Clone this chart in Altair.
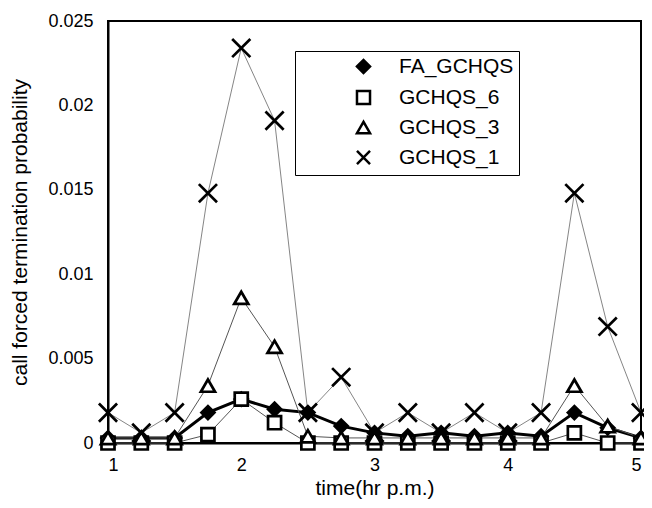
import altair as alt
import pandas as pd

times = [1, 1.25, 1.5, 1.75, 2, 2.25, 2.5, 2.75, 3, 3.25, 3.5, 3.75, 4, 4.25, 4.5, 4.75, 5]
fa_gchqs = [0.0003, 0.0003, 0.0003, 0.0018, 0.0026, 0.0020, 0.0018, 0.0010, 0.0006, 0.0004, 0.0006, 0.0004,
            0.0006, 0.0004, 0.0018, 0.0009, 0.0003]
gchqs_6 = [0.0, 0.0, 0.0, 0.0005, 0.0026, 0.0012, 0.0, 0.0, 0.0, 0.0, 0.0, 0.0, 0.0, 0.0, 0.0006, 0.0, 0.0]
gchqs_3 = [0.0003, 0.0003, 0.0003, 0.0034, 0.0086, 0.0057, 0.0004, 0.0003, 0.0003, 0.0003, 0.0003, 0.0003,
           0.0003, 0.0003, 0.0034, 0.0010, 0.0003]
gchqs_1 = [0.0018, 0.0006, 0.0018, 0.0148, 0.0234, 0.0191, 0.0018, 0.0039, 0.0006, 0.0018, 0.0006, 0.0018,
           0.0006, 0.0018, 0.0148, 0.0069, 0.0018]

series_names = ["FA_GCHQS", "GCHQS_6", "GCHQS_3", "GCHQS_1"]
series_values = [fa_gchqs, gchqs_6, gchqs_3, gchqs_1]

# styles keyed by series (looked up in data-driven, alphabetically sorted scales)
line_color = {"FA_GCHQS": "#000000", "GCHQS_6": "#555555", "GCHQS_3": "#555555", "GCHQS_1": "#777777"}
line_width = {"FA_GCHQS": 3, "GCHQS_6": 1, "GCHQS_3": 1, "GCHQS_1": 0.9}
marker_size = {"FA_GCHQS": 170, "GCHQS_6": 170, "GCHQS_3": 200, "GCHQS_1": 330}
alpha_order = sorted(series_names)

rows = []
for name, vals in zip(series_names, series_values):
    for t, v in zip(times, vals):
        rows.append({"time": t, "prob": v, "series": name})
df = pd.DataFrame(rows)

FONT = "Liberation Sans"
x_path = "M-1,-1L1,1M-1,1L1,-1"

x_enc = alt.X("time:Q", scale=alt.Scale(domain=[1, 5], nice=False),
              axis=alt.Axis(values=[1, 2, 3, 4, 5], format="d", title="time(hr p.m.)",
                            labelPadding=13, titlePadding=3))
y_enc = alt.Y("prob:Q", scale=alt.Scale(domain=[0, 0.025], nice=False),
              axis=alt.Axis(values=[0, 0.005, 0.01, 0.015, 0.02, 0.025], format="~g",
                            title="call forced termination probability",
                            labelPadding=15, titlePadding=17))

legend_opts = dict(
    title=None, orient="none", legendX=187, legendY=30,
    strokeColor="black", padding=5, fillColor="white",
    labelFont=FONT, labelFontSize=21, labelColor="black",
    symbolSize=170, symbolStrokeWidth=2.5, symbolFillColor="white",
    symbolOffset=53, labelOffset=25, rowPadding=6,
)

lines = alt.Chart(df).mark_line().encode(
    x=x_enc,
    y=y_enc,
    detail="series:N",
    color=alt.Color("series:N", scale=alt.Scale(range=[line_color[s] for s in alpha_order]),
                    legend=None),
    strokeWidth=alt.StrokeWidth("series:N",
                                scale=alt.Scale(type="ordinal", range=[line_width[s] for s in alpha_order]),
                                legend=None),
)

points = alt.Chart(df).mark_point(filled=True, strokeWidth=2.7, opacity=1).encode(
    x="time:Q",
    y="prob:Q",
    shape=alt.Shape("series:N", scale=alt.Scale(domain=series_names,
                                                range=["diamond", "square", "triangle-up", x_path]),
                    legend=alt.Legend(**legend_opts)),
    fill=alt.Fill("series:N", scale=alt.Scale(domain=series_names,
                                              range=["black", "white", "white", "white"]),
                  legend=alt.Legend(**legend_opts)),
    stroke=alt.Stroke("series:N", scale=alt.Scale(domain=series_names,
                                                  range=["black", "black", "black", "black"]),
                      legend=alt.Legend(**legend_opts)),
    size=alt.Size("series:N",
                  scale=alt.Scale(type="ordinal", range=[marker_size[s] for s in alpha_order]),
                  legend=None),
)

chart = alt.layer(lines, points).properties(
    width=533, height=422,
    padding={"left": 100, "top": 13, "right": 3, "bottom": 57},
    autosize=alt.AutoSizeParams(type="none"),
    background="white",
).configure_view(
    stroke="black", strokeWidth=2
).configure_axis(
    labelFont=FONT, titleFont=FONT, labelFontSize=18, titleFontSize=21,
    labelColor="black", titleColor="black", titleFontWeight="normal",
    domainColor="black", domainWidth=2, ticks=False, grid=False,
)

chart.save("out.html", embed_options={"renderer": "svg", "actions": False})
